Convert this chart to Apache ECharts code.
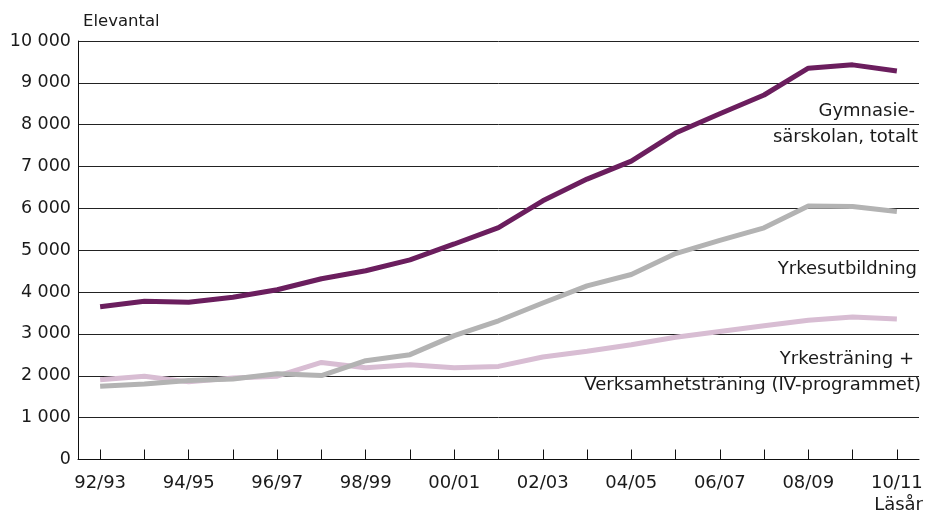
<!DOCTYPE html>
<html>
<head>
<meta charset="utf-8">
<script src="https://cdn.jsdelivr.net/npm/echarts@6/dist/echarts.min.js"></script>
<style>
  html, body { margin: 0; padding: 0; background: #fff; }
  #chart { width: 926px; height: 518px; }
</style>
</head>
<body>
<div id="chart"></div>
<script>
// läsår 92/93 .. 10/11
const years = ['92/93', '93/94', '94/95', '95/96', '96/97', '97/98', '98/99', '99/00', '00/01', '01/02',
  '02/03', '03/04', '04/05', '05/06', '06/07', '07/08', '08/09', '09/10', '10/11'];

const totalt = [3650, 3780, 3755, 3875, 4055, 4320, 4510, 4770, 5150, 5540,
  6180, 6700, 7130, 7800, 8260, 8710, 9350, 9430, 9285];
const yrkesutbildning = [1750, 1805, 1890, 1925, 2050, 2005, 2360, 2505, 2960, 3315,
  3740, 4150, 4420, 4920, 5235, 5535, 6060, 6045, 5925];
const yrkestraning = [1905, 1990, 1855, 1950, 1990, 2320, 2190, 2265, 2190, 2225,
  2450, 2585, 2740, 2920, 3060, 3195, 3325, 3405, 3360];

const yTicks = [0, 1000, 2000, 3000, 4000, 5000, 6000, 7000, 8000, 9000, 10000];

const FONT = 'DejaVu Sans';
const TEXT = '#1a1a1a';

function fmt(v) {
  return String(v).replace(/\B(?=(\d{3})+(?!\d))/g, ' ');
}

const chart = echarts.init(document.getElementById('chart'), null, { renderer: 'canvas' });

// right-aligned annotation, y = vertical centre
function note(text, right, y) {
  return {
    type: 'text',
    right: 926 - right,
    top: y - 11,
    style: { text: text, fill: TEXT, font: '18px "' + FONT + '"', textAlign: 'right' }
  };
}

const option = {
  animation: false,
  grid: { left: 78, top: 41, width: 841, height: 418.5, containLabel: false },
  xAxis: {
    type: 'category',
    data: years,
    boundaryGap: true,
    axisLine: { lineStyle: { color: '#111', width: 1 } },
    axisTick: { show: true, inside: true, length: 10, alignWithLabel: true, interval: 0,
      lineStyle: { color: '#111' } },
    axisLabel: { interval: 1, margin: 15, color: TEXT, fontFamily: FONT, fontSize: 18 }
  },
  yAxis: {
    type: 'value',
    min: yTicks[0],
    max: yTicks[yTicks.length - 1],
    interval: 1000,
    axisLine: { show: true, lineStyle: { color: '#111', width: 1 } },
    axisTick: { show: false },
    splitLine: { lineStyle: { color: '#222', width: 1 } },
    axisLabel: { margin: 7, color: TEXT, fontFamily: FONT, fontSize: 17.5, formatter: fmt }
  },
  series: [
    {
      name: 'Yrkesträning + Verksamhetsträning (IV-programmet)',
      type: 'line', data: yrkestraning, showSymbol: false,
      lineStyle: { color: '#d8bdd3', width: 5 }, z: 2
    },
    {
      name: 'Yrkesutbildning',
      type: 'line', data: yrkesutbildning, showSymbol: false,
      lineStyle: { color: '#b3b3b3', width: 5 }, z: 3
    },
    {
      name: 'Gymnasiesärskolan, totalt',
      type: 'line', data: totalt, showSymbol: false,
      lineStyle: { color: '#6b1e5e', width: 5 }, z: 4
    }
  ],
  graphic: [
    { type: 'text', left: 83, top: 13,
      style: { text: 'Elevantal', fill: TEXT, font: '16.5px "' + FONT + '"' } },
    note('Läsår', 923, 507),
    note('Gymnasie-', 915, 113),
    note('särskolan, totalt', 918, 139),
    note('Yrkesutbildning', 917, 271),
    note('Yrkesträning +', 914, 361),
    note('Verksamhetsträning (IV-programmet)', 921, 387)
  ]
};

chart.setOption(option);
</script>
</body>
</html>
